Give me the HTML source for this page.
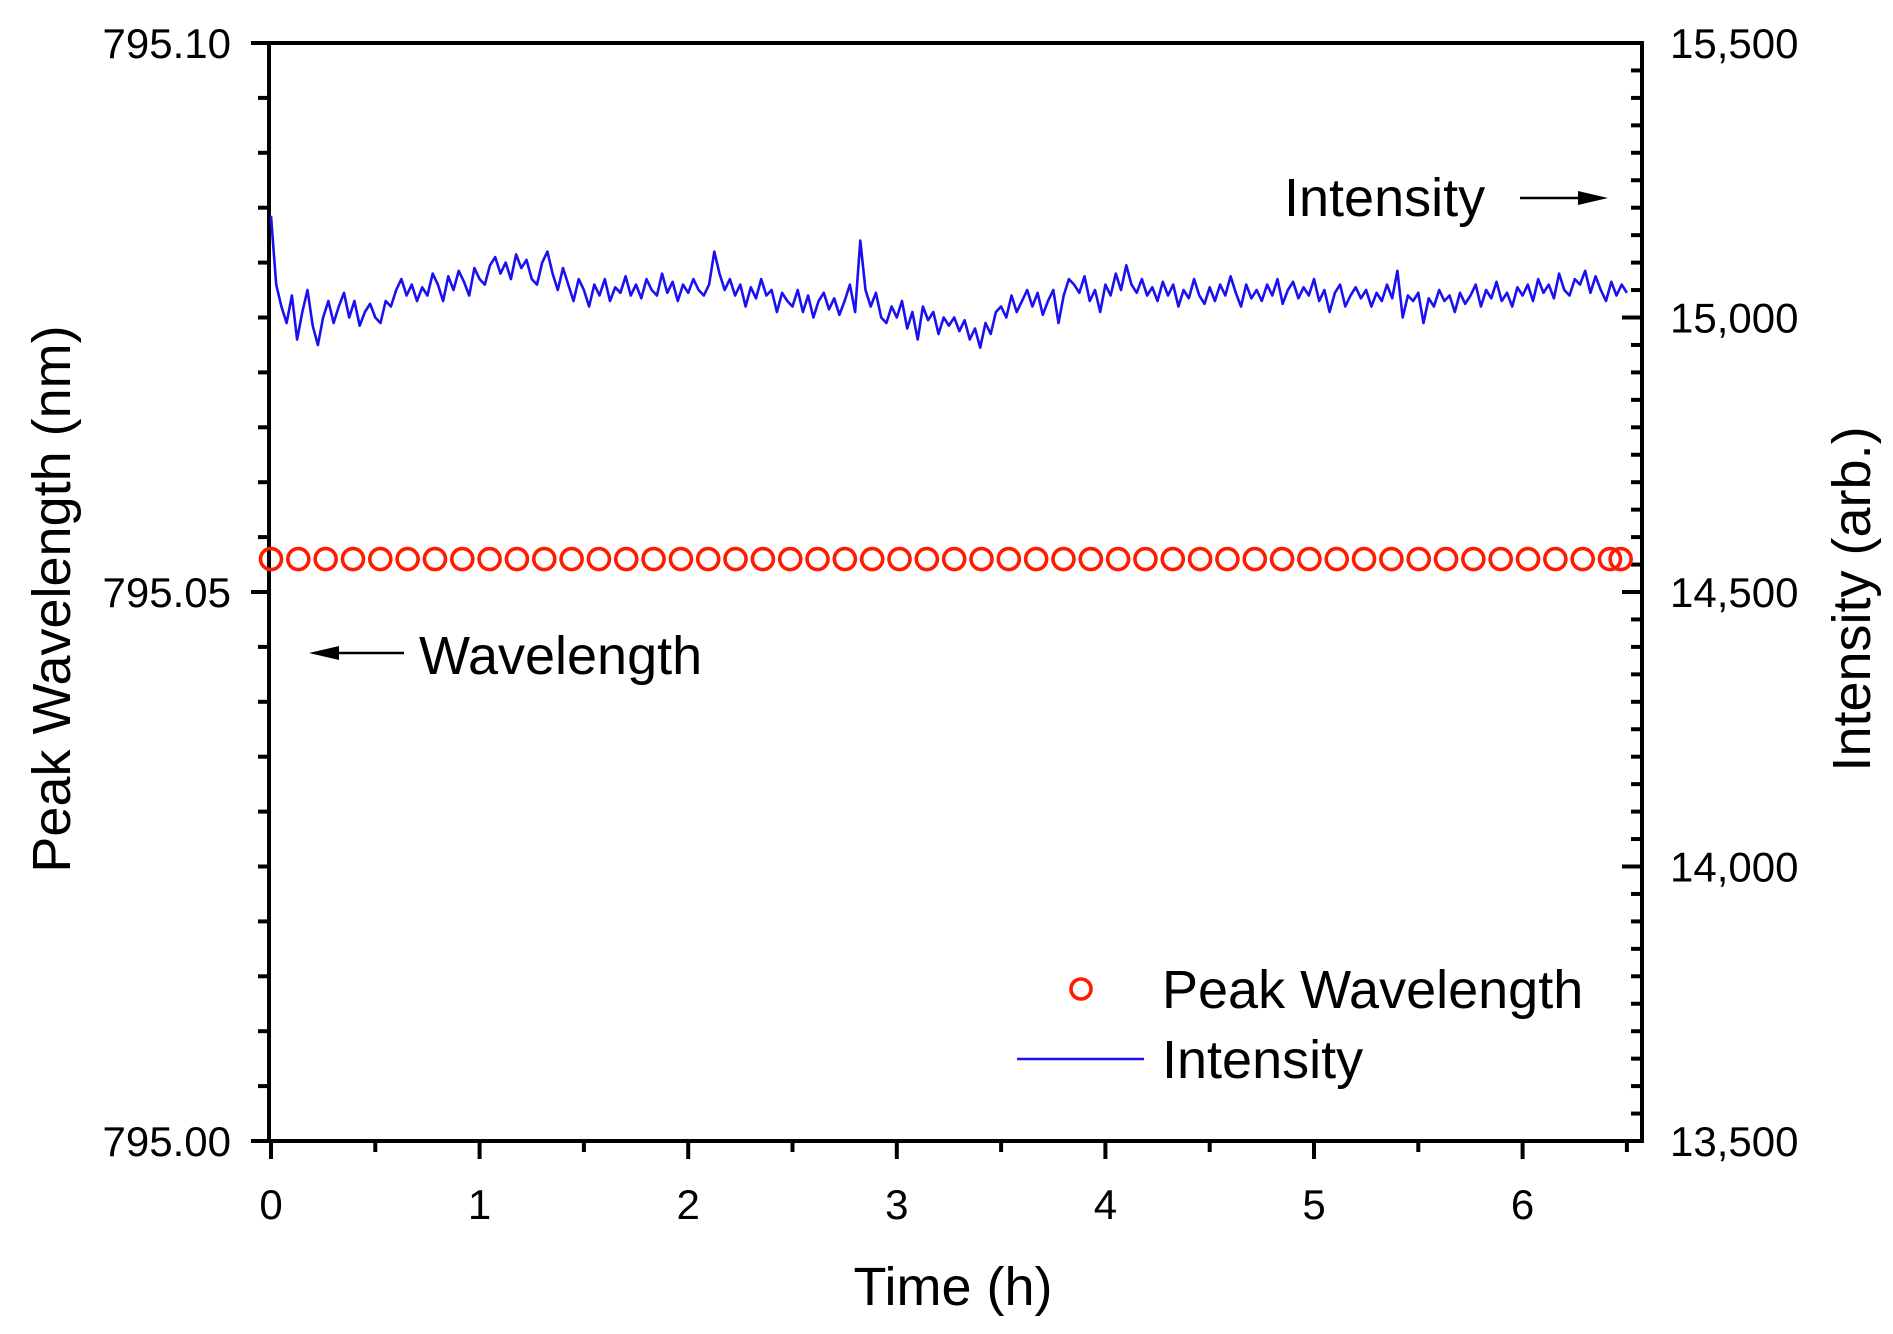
<!DOCTYPE html>
<html><head><meta charset="utf-8"><style>
html,body{margin:0;padding:0;background:#fff;}
svg{display:block;font-family:"Liberation Sans",Arial,sans-serif;}
</style></head><body>
<svg id="chart" width="1893" height="1334" viewBox="0 0 1893 1334">
<g id="plot"></g>
</svg>
<script>
const xTicks=[0,1,2,3,4,5,6];
const yLeftTicks=[795.00,795.05,795.10];
const yLeftLabels=["795.00","795.05","795.10"];
const yRightTicks=[13500,14000,14500,15000,15500];
const yRightLabels=["13,500","14,000","14,500","15,000","15,500"];
const intensityStep=0.025;
const intensity=[
15185,15060,15020,14990,15040,14960,15010,15050,14985,14950,
15000,15030,14990,15020,15045,15000,15030,14985,15010,15025,
15000,14990,15030,15020,15050,15070,15040,15060,15030,15055,
15040,15080,15060,15030,15075,15050,15085,15065,15040,15090,
15070,15060,15095,15110,15080,15100,15070,15115,15090,15105,
15070,15060,15100,15120,15080,15050,15090,15060,15030,15070,
15050,15020,15060,15040,15070,15030,15055,15045,15075,15040,
15060,15035,15070,15050,15040,15080,15045,15065,15030,15060,
15045,15070,15050,15040,15060,15120,15080,15050,15070,15040,
15060,15020,15055,15035,15070,15040,15050,15010,15045,15030,
15020,15050,15010,15040,15000,15030,15045,15015,15035,15005,
15030,15060,15010,15140,15050,15020,15045,15000,14990,15020,
15000,15030,14980,15010,14960,15020,14995,15010,14970,15000,
14985,15000,14975,14995,14960,14980,14945,14990,14970,15010,
15020,15000,15040,15010,15030,15050,15020,15045,15005,15030,
15050,14990,15040,15070,15060,15045,15075,15030,15050,15010,
15060,15040,15080,15050,15095,15060,15045,15070,15040,15055,
15030,15065,15040,15060,15020,15050,15035,15070,15040,15025,
15055,15030,15060,15040,15075,15045,15020,15060,15035,15050,
15030,15060,15040,15070,15025,15050,15065,15035,15055,15040,
15070,15030,15050,15010,15045,15060,15020,15040,15055,15035,
15050,15020,15045,15030,15060,15035,15085,15000,15040,15030,
15045,14990,15035,15020,15050,15030,15040,15010,15045,15025,
15040,15060,15020,15050,15035,15065,15030,15045,15020,15055,
15040,15060,15030,15070,15045,15060,15035,15080,15050,15040,
15070,15060,15085,15045,15075,15050,15030,15065,15040,15060,
15045];
const wlTimes=[0,0.131,0.262,0.393,0.524,0.655,0.786,0.917,1.048,1.179,1.31,1.441,1.572,1.703,1.834,1.965,2.096,2.227,2.358,2.489,2.62,2.751,2.882,3.013,3.144,3.275,3.406,3.537,3.668,3.799,3.93,4.061,4.192,4.323,4.454,4.585,4.716,4.847,4.978,5.109,5.24,5.371,5.502,5.633,5.764,5.895,6.026,6.157,6.288,6.419,6.47];
const wlValues=wlTimes.map(()=>795.053);

const NS="http://www.w3.org/2000/svg";
const L=269,R=1642,T=43,B=1141;
const X0=271,PXH=208.6;
const xs=t=>X0+t*PXH;
const yl=v=>B-(v-795.0)/0.1*(B-T);
const yr=v=>B-(v-13500)/2000*(B-T);
const g=document.getElementById('plot');
function el(tag,attrs){const e=document.createElementNS(NS,tag);for(const k in attrs)e.setAttribute(k,attrs[k]);return e;}
function txt(s,attrs){const e=el('text',attrs);e.textContent=s;return e;}

const frame=el('rect',{x:L,y:T,width:R-L,height:B-T,fill:'none',stroke:'#000','stroke-width':4});


g.appendChild(frame);

for(let i=0;i<=13;i++){const t=i*0.5;const x=xs(t);if(x>R+1)break;
 const tk=el('line',{x1:x,x2:x,y1:B,y2:B+(i%2?11:18),stroke:'#000','stroke-width':4});
 
 
 g.appendChild(tk);}
xTicks.forEach(t=>{const lb=txt(String(t),{x:xs(t),y:1219,'font-size':42,'text-anchor':'middle'});
 
 
 g.appendChild(lb);});
for(let i=0;i<=20;i++){const v=795.0+i*0.005;const y=yl(v);
 const tk=el('line',{x1:L,x2:L-(i%10?11:18),y1:y,y2:y,stroke:'#000','stroke-width':4});
 
 
 g.appendChild(tk);}
yLeftTicks.forEach((v,i)=>{const lb=txt(yLeftLabels[i],{x:231,y:yl(v)+15,'font-size':42,'text-anchor':'end'});
 
 
 g.appendChild(lb);});
for(let i=0;i<=40;i++){const v=13500+i*50;const y=yr(v);
 const tk=el('line',{x1:R,x2:R-(i%10?11:20),y1:y,y2:y,stroke:'#000','stroke-width':4});
 
 
 g.appendChild(tk);}
yRightTicks.forEach((v,i)=>{const lb=txt(yRightLabels[i],{x:1670,y:yr(v)+15,'font-size':42,'text-anchor':'start'});
 
 
 g.appendChild(lb);});

const xt=txt('Time (h)',{x:953,y:1305,'font-size':54,'text-anchor':'middle'});


g.appendChild(xt);
const ylt=txt('Peak Wavelength (nm)',{x:0,y:0,'font-size':54,'text-anchor':'middle',transform:'translate(70,599) rotate(-90)'});


g.appendChild(ylt);
const yrt=txt('Intensity (arb.)',{x:0,y:0,'font-size':54,'text-anchor':'middle',transform:'translate(1870,599) rotate(-90)'});


g.appendChild(yrt);

let d='';intensity.forEach((v,i)=>{d+=(i?'L':'M')+xs(i*intensityStep).toFixed(1)+','+yr(v).toFixed(1);});
const line=el('path',{d:d,fill:'none',stroke:'#1a10f0','stroke-width':2.6,'stroke-linejoin':'round'});


g.appendChild(line);

wlTimes.forEach((t,i)=>{const c=el('circle',{cx:xs(t),cy:yl(wlValues[i]),r:10.5,fill:'none',stroke:'#ff1a00','stroke-width':3.6});
 
 
 g.appendChild(c);});

const a1=txt('Intensity',{x:1284,y:216,'font-size':54});


g.appendChild(a1);
const ar1=el('g',{});


ar1.appendChild(el('line',{x1:1520,x2:1590,y1:198,y2:198,stroke:'#000','stroke-width':2.5}));
ar1.appendChild(el('polygon',{points:'1608,198 1578,191 1578,205',fill:'#000'}));
g.appendChild(ar1);
const a2=txt('Wavelength',{x:419,y:674,'font-size':54});


g.appendChild(a2);
const ar2=el('g',{});


ar2.appendChild(el('line',{x1:404,x2:325,y1:653,y2:653,stroke:'#000','stroke-width':2.5}));
ar2.appendChild(el('polygon',{points:'309,653 339,646 339,660',fill:'#000'}));
g.appendChild(ar2);

const lg=el('g',{});


g.appendChild(lg);
const le1=el('circle',{cx:1081,cy:989,r:10,fill:'none',stroke:'#ff1a00','stroke-width':3.6});


lg.appendChild(le1);
const lt1=txt('Peak Wavelength',{x:1162,y:1008,'font-size':54});


lg.appendChild(lt1);
const le2=el('line',{x1:1017,x2:1144,y1:1059,y2:1059,stroke:'#1a10f0','stroke-width':2.5});


lg.appendChild(le2);
const lt2=txt('Intensity',{x:1162,y:1078,'font-size':54});


lg.appendChild(lt2);
</script>
</body></html>
